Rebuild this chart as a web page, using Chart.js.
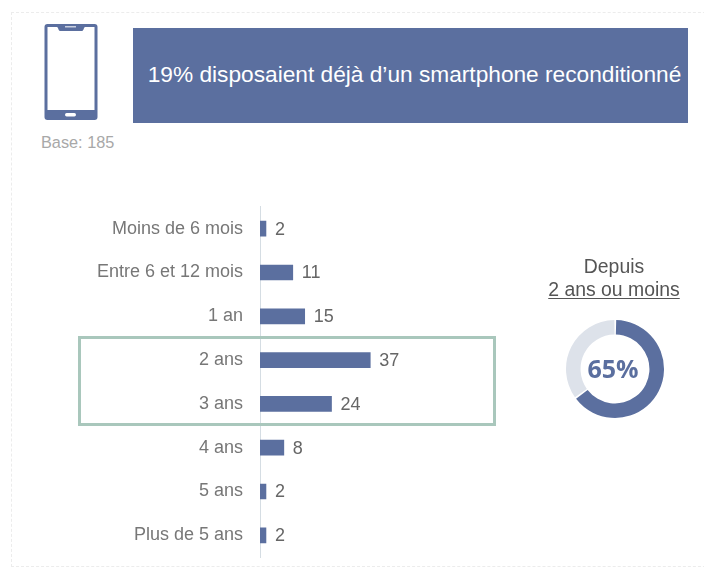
<!DOCTYPE html>
<html lang="fr"><head><meta charset="utf-8">
<script src="https://cdn.jsdelivr.net/npm/chart.js@4"></script>
<style>
html,body{margin:0;padding:0;background:#fff;width:704px;height:571px;overflow:hidden;font-family:"Liberation Sans",sans-serif}
.abs{position:absolute}
#frame{left:11px;top:12px;width:720px;height:555px;border:1px dashed #ececec;box-sizing:border-box}
#head{left:133px;top:28px;width:555px;height:95px;background:#5b6f9f;color:#fff;font-size:22.7px;line-height:93px;text-align:center;white-space:nowrap;text-indent:8px}
#base{left:41px;top:133px;font-size:16.3px;color:#a8a8a8}
#hl{left:78px;top:336px;width:418px;height:90px;border:3px solid #a9c7bc;box-sizing:border-box}
#dep{left:529px;top:255px;width:170px;text-align:center;font-size:19.4px;line-height:23px;color:#555}
#dep u{text-underline-offset:2px}
#pct{left:563px;top:351px;width:100px;text-align:center;font:bold 25px "Open Sans",sans-serif;color:#5b6f9f}
#barWrap{left:0;top:179px;width:558px;height:406px}
#donutWrap{left:560px;top:314px;width:110px;height:110px}
</style></head><body>
<div id="frame" class="abs"></div>
<svg class="abs" style="left:44px;top:23px" width="54" height="98" viewBox="0 0 54 98">
<rect x="0.500" y="1" width="53" height="96" rx="3" fill="#5b6f9f"/>
<path d="M3.500 4H13q1 0 1.500 2.500q.5 1.500 2 1.500H37.500q1.500 0 2-1.500q.5-2.500 1.500-2.500H50.500V87H3.500Z" fill="#fff"/>
<rect x="21" y="90" width="11" height="3.500" rx="1.700" fill="#fff"/>
<rect x="21" y="3" width="11" height="1.500" fill="#c9d0e0"/>
</svg>
<div id="head" class="abs">19% disposaient déjà d’un smartphone reconditionné</div>
<div id="base" class="abs">Base: 185</div>
<div id="barWrap" class="abs"><canvas id="bars" width="558" height="406"></canvas></div>
<div id="hl" class="abs"></div>
<div id="dep" class="abs">Depuis<br><u>2 ans ou moins</u></div>
<div id="donutWrap" class="abs"><canvas id="donut" width="110" height="110"></canvas></div>
<div id="pct" class="abs">65%</div>
<script>
const categories = ["Moins de 6 mois","Entre 6 et 12 mois","1 an","2 ans","3 ans","4 ans","5 ans","Plus de 5 ans"];
const values = [2,11,15,37,24,8,2,2];
const donutLabels = ["2 ans ou moins","Plus de 2 ans"];
const donutValues = [65,35];
const blue = "#5b6f9f";
Chart.defaults.animation = false;
const valueLabels = {
  id:"valueLabels",
  afterDatasetsDraw(c){
    const {ctx} = c;
    const meta = c.getDatasetMeta(0);
    ctx.save();
    ctx.font = '18px "Liberation Sans"';
    ctx.fillStyle = "#666";
    ctx.textBaseline = "middle";
    meta.data.forEach((b,i)=>{ ctx.fillText(values[i], b.x+9, b.y+1); });
    ctx.restore();
  }
};
new Chart(document.getElementById("bars"),{
  type:"bar",
  data:{labels:categories,datasets:[{data:values,backgroundColor:blue,barThickness:15,borderWidth:0}]},
  options:{
    indexAxis:"y",responsive:false,
    layout:{padding:0},
    plugins:{legend:{display:false},tooltip:{enabled:false}},
    scales:{
      x:{display:false,min:0,max:100},
      y:{
        afterFit(s){s.width=260;},
        grid:{display:false,drawTicks:false},
        border:{display:true,color:"#d5dde3",width:1},
        ticks:{color:"#777",padding:17,font:{family:"Liberation Sans",size:18}}
      }
    }
  },
  plugins:[valueLabels]
});
new Chart(document.getElementById("donut"),{
  type:"doughnut",
  data:{labels:donutLabels,datasets:[{data:donutValues,backgroundColor:[blue,"#dde2ea"],borderWidth:0,spacing:1}]},
  options:{responsive:false,cutout:"70%",layout:{padding:6},plugins:{legend:{display:false},tooltip:{enabled:false}}}
});
</script>
</body></html>
